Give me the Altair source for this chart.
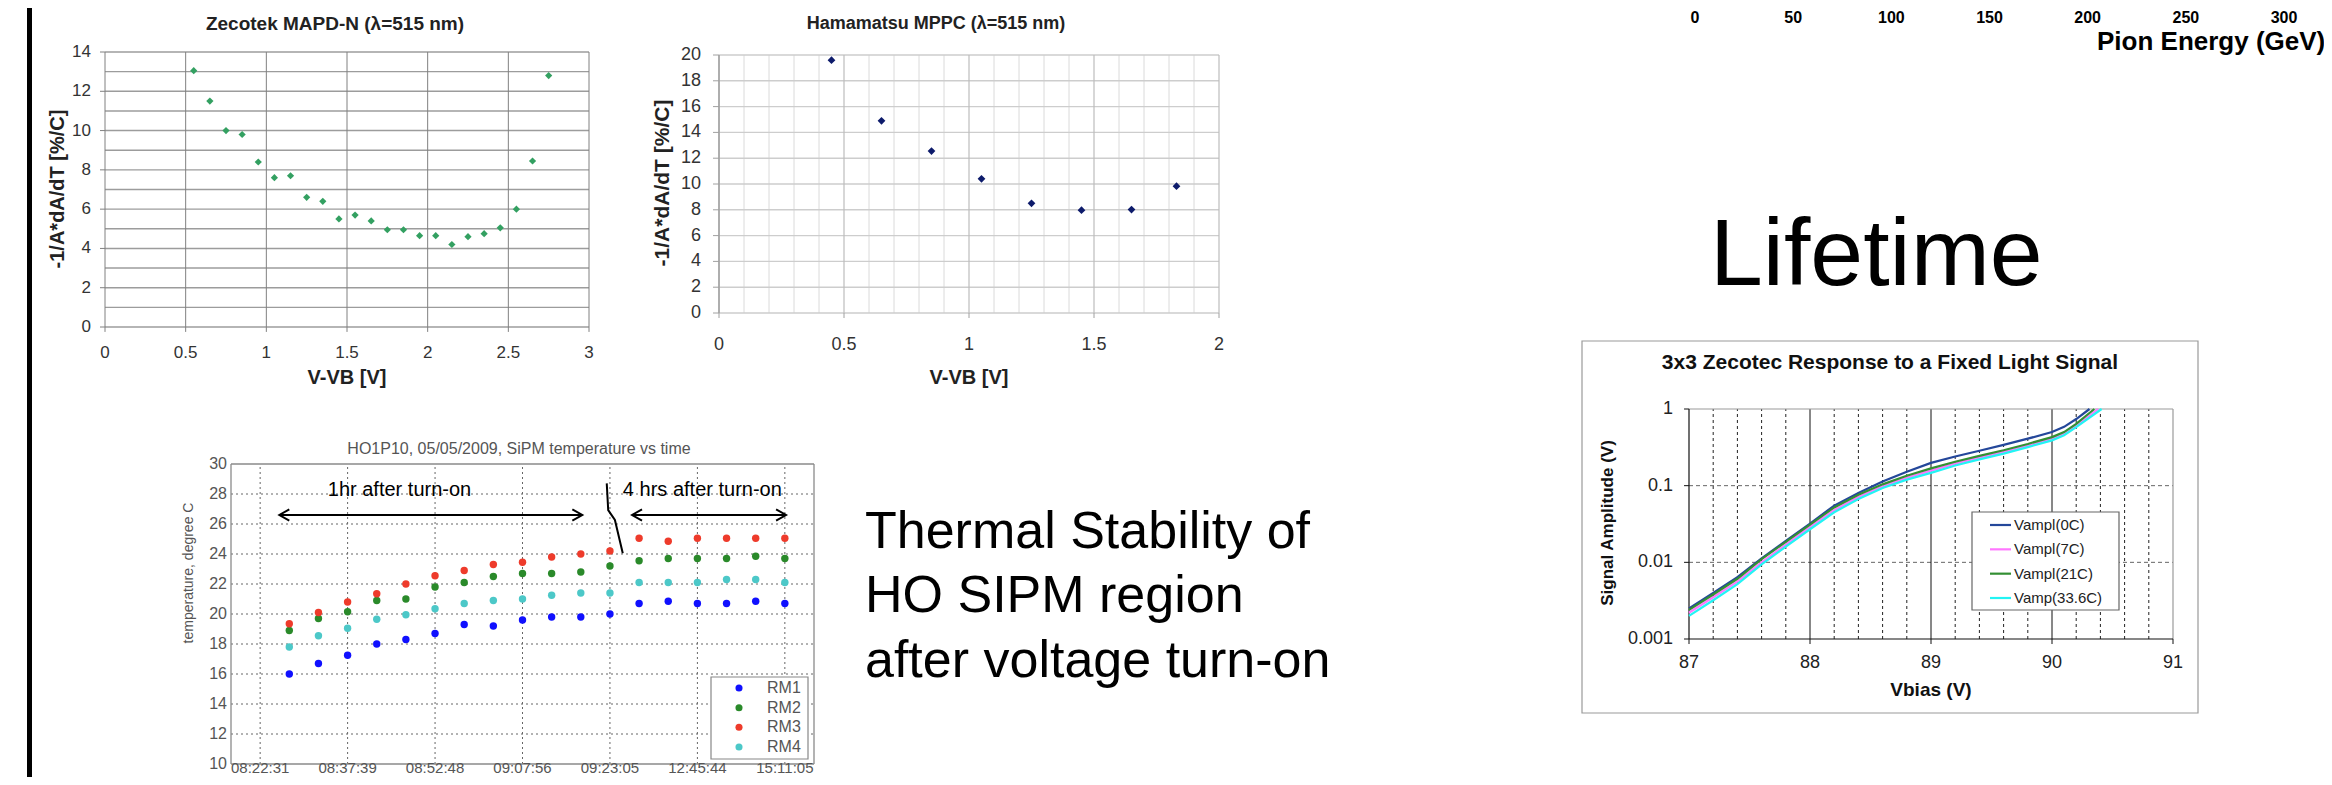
import altair as alt
import pandas as pd

FONT = "Liberation Sans"
W, H = 2316, 769

# ------------------------------------------------------------------ data
# Zecotek MAPD-N (lambda = 515 nm)
zec_vvb = [0.55, 0.65, 0.75, 0.85, 0.95, 1.05, 1.15, 1.25, 1.35, 1.45, 1.55, 1.65,
           1.75, 1.85, 1.95, 2.05, 2.15, 2.25, 2.35, 2.45, 2.55, 2.65, 2.75]
zec_coef = [13.05, 11.5, 10.0, 9.8, 8.4, 7.6, 7.7, 6.6, 6.4, 5.5, 5.7, 5.4,
            4.95, 4.95, 4.65, 4.65, 4.2, 4.6, 4.75, 5.05, 6.0, 8.45, 12.8]
zec_xticks = [0, 0.5, 1, 1.5, 2, 2.5, 3]
zec_xlabels = ["0", "0.5", "1", "1.5", "2", "2.5", "3"]
zec_yticks = [0, 2, 4, 6, 8, 10, 12, 14]
zec_ylabels = ["0", "2", "4", "6", "8", "10", "12", "14"]
zec_ygrid = [0, 1, 2, 3, 4, 5, 6, 7, 8, 9, 10, 11, 12, 13, 14]

# Hamamatsu MPPC (lambda = 515 nm)
ham_vvb = [0.45, 0.65, 0.85, 1.05, 1.25, 1.45, 1.65, 1.83]
ham_coef = [19.6, 14.9, 12.55, 10.4, 8.5, 7.97, 8.02, 9.83]
ham_xticks = [0, 0.5, 1, 1.5, 2]
ham_xlabels = ["0", "0.5", "1", "1.5", "2"]
ham_xminor = [0.1, 0.2, 0.3, 0.4, 0.6, 0.7, 0.8, 0.9, 1.1, 1.2, 1.3, 1.4,
              1.6, 1.7, 1.8, 1.9]
ham_yticks = [0, 2, 4, 6, 8, 10, 12, 14, 16, 18, 20]
ham_ylabels = ["0", "2", "4", "6", "8", "10", "12", "14", "16", "18", "20"]

# HO1P10 SiPM temperature vs time
time_idx = [1, 2, 3, 4, 5, 6, 7, 8, 9, 10, 11, 12, 13, 14, 15, 16, 17, 18]
rm_names = ["RM1", "RM2", "RM3", "RM4"]
rm1 = [16.0, 16.7, 17.25, 18.0, 18.3, 18.7, 19.3, 19.2, 19.6, 19.8, 19.8, 20.0,
       20.7, 20.85, 20.7, 20.7, 20.85, 20.7]
rm2 = [18.9, 19.7, 20.15, 20.9, 21.0, 21.8, 22.1, 22.5, 22.7, 22.7, 22.8, 23.2,
       23.55, 23.7, 23.7, 23.7, 23.85, 23.7]
rm3 = [19.35, 20.1, 20.8, 21.35, 22.0, 22.55, 22.9, 23.3, 23.45, 23.8, 24.0, 24.2,
       25.05, 24.85, 25.05, 25.05, 25.05, 25.05]
rm4 = [17.8, 18.55, 19.05, 19.65, 19.95, 20.35, 20.7, 20.9, 21.0, 21.25, 21.4, 21.4,
       22.1, 22.1, 22.1, 22.3, 22.3, 22.1]
rm_colors = ["#1010ff", "#2a8a2a", "#ee3b2b", "#4cc8c8"]
time_ticks = [0, 3, 6, 9, 12, 15, 18]
time_labels = ["08:22:31", "08:37:39", "08:52:48", "09:07:56", "09:23:05",
               "12:45:44", "15:11:05"]
temp_yticks = [10, 12, 14, 16, 18, 20, 22, 24, 26, 28, 30]
temp_ylabels = ["10", "12", "14", "16", "18", "20", "22", "24", "26", "28", "30"]
temp_ygrid = [12, 14, 16, 18, 20, 22, 24, 26, 28]

# annotations on the temperature plot (data coordinates)
annot_text = ["1hr after turn-on", "4 hrs after turn-on"]
annot_x = [4.78, 15.17]
annot_y = [28.27, 28.27]
arrow_paths = [
    [(0.66, 26.6), (11.05, 26.6)],
    [(1.0, 26.97), (0.66, 26.6), (1.0, 26.23)],
    [(10.71, 26.97), (11.05, 26.6), (10.71, 26.23)],
    [(12.76, 26.6), (18.04, 26.6)],
    [(13.1, 26.97), (12.76, 26.6), (13.1, 26.23)],
    [(17.7, 26.97), (18.04, 26.6), (17.7, 26.23)],
    [(11.89, 28.71), (11.94, 26.93), (12.17, 26.27), (12.44, 24.05)],
]

# 3x3 Zecotec response to a fixed light signal
vbias = [87.0, 87.2, 87.4, 87.6, 87.8, 88.0, 88.2, 88.4, 88.6, 88.8, 89.0, 89.2,
         89.4, 89.6, 89.8, 90.0, 90.1, 90.2]
amp_names = ["Vampl(0C)", "Vampl(7C)", "Vampl(21C)", "Vamp(33.6C)"]
amp_0c = [0.0025, 0.0040, 0.0064, 0.0113, 0.019, 0.032, 0.055, 0.080, 0.113, 0.152,
          0.198, 0.24, 0.285, 0.34, 0.41, 0.50, 0.585, 0.74]
amp_7c = [0.0022, 0.0035, 0.0056, 0.0100, 0.0170, 0.029, 0.048, 0.071, 0.098, 0.127,
          0.157, 0.194, 0.232, 0.275, 0.33, 0.405, 0.47, 0.60]
amp_21c = [0.0024, 0.0038, 0.0061, 0.0110, 0.0185, 0.031, 0.052, 0.076, 0.104, 0.135,
           0.168, 0.205, 0.245, 0.29, 0.35, 0.43, 0.50, 0.64]
amp_336c = [0.0020, 0.0032, 0.0052, 0.0094, 0.0160, 0.027, 0.045, 0.067, 0.093, 0.12,
            0.147, 0.183, 0.22, 0.262, 0.318, 0.39, 0.455, 0.58]
amp_end_x = [90.31, 90.38, 90.35, 90.41]
amp_end_y = [1.0, 1.0, 1.0, 1.0]
amp_colors = ["#24479a", "#ff77ff", "#338f33", "#22f4f4"]
vb_ticks = [87, 88, 89, 90, 91]
vb_labels = ["87", "88", "89", "90", "91"]
vb_minor = [87.2, 87.4, 87.6, 87.8, 88.2, 88.4, 88.6, 88.8, 89.2, 89.4, 89.6, 89.8,
            90.2, 90.4, 90.6, 90.8]
amp_ticks = [0.001, 0.01, 0.1, 1]
amp_labels = ["0.001", "0.01", "0.1", "1"]

# cut-off pion energy axis (top right)
pion_ticks = [0, 50, 100, 150, 200, 250, 300]
pion_labels = ["0", "50", "100", "150", "200", "250", "300"]


# ------------------------------------------------------------------ helpers
def lin(dom, rng):
    return alt.Scale(type="linear", domain=dom, range=rng, nice=False, zero=False)


def logs(dom, rng):
    return alt.Scale(type="log", domain=dom, range=rng, nice=False)


def hlines(vals, lo, hi, xs, ys, color, width=1.0, dash=None):
    df = pd.DataFrame({"v": vals, "lo": [lo] * len(vals), "hi": [hi] * len(vals)})
    kw = dict(color=color, strokeWidth=width)
    if dash:
        kw["strokeDash"] = dash
    return alt.Chart(df).mark_rule(**kw).encode(
        y=alt.Y("v:Q", scale=ys, axis=None),
        x=alt.X("lo:Q", scale=xs, axis=None),
        x2="hi:Q")


def vlines(vals, lo, hi, xs, ys, color, width=1.0, dash=None):
    df = pd.DataFrame({"v": vals, "lo": [lo] * len(vals), "hi": [hi] * len(vals)})
    kw = dict(color=color, strokeWidth=width)
    if dash:
        kw["strokeDash"] = dash
    return alt.Chart(df).mark_rule(**kw).encode(
        x=alt.X("v:Q", scale=xs, axis=None),
        y=alt.Y("lo:Q", scale=ys, axis=None),
        y2="hi:Q")


def ylabels(vals, texts, ys, xpx, size, color, font=FONT):
    df = pd.DataFrame({"v": vals, "t": texts})
    return alt.Chart(df).mark_text(align="right", baseline="middle", font=font,
                                   fontSize=size, color=color).encode(
        y=alt.Y("v:Q", scale=ys, axis=None), x=alt.value(xpx), text="t:N")


def xlabels(vals, texts, xs, ypx, size, color, baseline="middle", font=FONT,
            weight="normal"):
    df = pd.DataFrame({"v": vals, "t": texts})
    return alt.Chart(df).mark_text(align="center", baseline=baseline, font=font,
                                   fontSize=size, color=color,
                                   fontWeight=weight).encode(
        x=alt.X("v:Q", scale=xs, axis=None), y=alt.value(ypx), text="t:N")


def label(text, x, y, size, color="black", weight="normal", angle=0,
          align="center", baseline="middle", font=FONT):
    df = pd.DataFrame({"t": [text]})
    kw = dict(align=align, baseline=baseline, font=font, fontSize=size,
              color=color, fontWeight=weight)
    if angle:
        kw["angle"] = angle
    return alt.Chart(df).mark_text(**kw).encode(
        x=alt.value(x), y=alt.value(y), text="t:N")


def box(x1, x2, y1, y2, stroke, width=1.0):
    return alt.Chart(pd.DataFrame({"a": [0]})).mark_rect(
        fill="white", stroke=stroke, strokeWidth=width).encode(
        x=alt.value(x1), x2=alt.value(x2), y=alt.value(y1), y2=alt.value(y2))


layers = []

# slide border bar
layers.append(alt.Chart(pd.DataFrame({"a": [0]})).mark_rule(
    color="black", strokeWidth=5).encode(
    x=alt.value(21.5), y=alt.value(0), y2=alt.value(H)))

# ------------------------------------------------------------------ Zecotek chart
ax, ay = lin([0, 3], [97, 581]), lin([0, 14], [319, 44])
layers += [
    hlines(zec_ygrid, 0, 3, ax, ay, "#9c9c9c", 1.4),
    vlines(zec_xticks, 0, 14, ax, ay, "#808080", 1.0),
    hlines(zec_yticks, -0.031, 0, ax, ay, "#808080", 1.0),
    vlines(zec_xticks, -0.25, 0, ax, ay, "#808080", 1.0),
    ylabels(zec_yticks, zec_ylabels, ay, 83, 17, "#333333"),
    xlabels(zec_xticks, zec_xlabels, ax, 345, 17, "#333333"),
    alt.Chart(pd.DataFrame({"v": zec_vvb, "c": zec_coef})).mark_point(
        shape="diamond", filled=True, size=52, color="#33a061", opacity=1).encode(
        x=alt.X("v:Q", scale=ax, axis=None), y=alt.Y("c:Q", scale=ay, axis=None)),
    label("Zecotek MAPD-N (\u03bb=515 nm)", 327, 16, 19, "#222222", "bold"),
    label("V-VB [V]", 339, 370, 20, "#222222", "bold"),
    label("-1/A*dA/dT [%/C]", 50, 181, 20, "#222222", "bold", angle=270),
]

# ------------------------------------------------------------------ Hamamatsu chart
bx, by = lin([0, 2], [711, 1211]), lin([0, 20], [305, 47])
layers += [
    vlines(ham_xminor, 0, 20, bx, by, "#dadada", 1.0),
    hlines(ham_yticks, 0, 2, bx, by, "#cdcdcd", 1.4),
    vlines(ham_xticks, 0, 20, bx, by, "#bdbdbd", 1.2),
    vlines([0], 0, 20, bx, by, "#a0a0a0", 1.5),
    hlines(ham_yticks, -0.024, 0, bx, by, "#a0a0a0", 1.0),
    vlines(ham_xticks, -0.39, 0, bx, by, "#a0a0a0", 1.0),
    ylabels(ham_yticks, ham_ylabels, by, 693, 18, "#333333"),
    xlabels(ham_xticks, ham_xlabels, bx, 337, 18, "#333333"),
    alt.Chart(pd.DataFrame({"v": ham_vvb, "c": ham_coef})).mark_point(
        shape="diamond", filled=True, size=60, color="#0d1b6b", opacity=1).encode(
        x=alt.X("v:Q", scale=bx, axis=None), y=alt.Y("c:Q", scale=by, axis=None)),
    label("Hamamatsu MPPC (\u03bb=515 nm)", 928, 16, 18, "#222222", "bold"),
    label("V-VB [V]", 961, 370, 20, "#222222", "bold"),
    label("-1/A*dA/dT [%/C]", 655, 175, 21, "#222222", "bold", angle=270),
]

# ------------------------------------------------------------------ temperature chart
cx, cy = lin([-1, 19], [223, 806]), lin([10, 30], [756, 456])
rm_color_scale = alt.Scale(domain=rm_names, range=rm_colors)
temp_rows = []
for name, vals in zip(rm_names, [rm1, rm2, rm3, rm4]):
    for t, v in zip(time_idx, vals):
        temp_rows.append({"t": t, "temp": v, "module": name})
arrow_rows = []
for s, path in enumerate(arrow_paths):
    for k, (px, py) in enumerate(path):
        arrow_rows.append({"seg": s, "k": k, "x": px, "y": py})
rm_legend = pd.DataFrame({"module": rm_names, "row": list(range(len(rm_names)))})
rm_row_scale = lin([0, 3], [680, 739])

layers += [
    hlines(temp_ygrid, -1, 19, cx, cy, "#666666", 1.0, [2, 3]),
    vlines(time_ticks, 10, 30, cx, cy, "#666666", 1.0, [2, 3]),
    hlines([10, 30], -1, 19, cx, cy, "#8a8a8a", 1.3),
    vlines([-1, 19], 10, 30, cx, cy, "#8a8a8a", 1.3),
    ylabels(temp_yticks, temp_ylabels, cy, 219, 16, "#555555"),
    xlabels(time_ticks, time_labels, cx, 768, 15, "#555555", baseline="bottom"),
    label("HO1P10, 05/05/2009, SiPM temperature vs time", 511, 441, 16, "#555555"),
    label("temperature, degree C", 181, 565, 14, "#555555", angle=270),
    alt.Chart(pd.DataFrame(temp_rows)).mark_circle(size=55, opacity=1).encode(
        x=alt.X("t:Q", scale=cx, axis=None),
        y=alt.Y("temp:Q", scale=cy, axis=None),
        color=alt.Color("module:N", scale=rm_color_scale, legend=None)),
    alt.Chart(pd.DataFrame({"t": annot_text, "x": annot_x, "y": annot_y})).mark_text(
        font=FONT, fontSize=20, color="black", align="center", baseline="middle").encode(
        x=alt.X("x:Q", scale=cx, axis=None), y=alt.Y("y:Q", scale=cy, axis=None),
        text="t:N"),
    alt.Chart(pd.DataFrame(arrow_rows)).mark_line(color="black", strokeWidth=2).encode(
        x=alt.X("x:Q", scale=cx, axis=None), y=alt.Y("y:Q", scale=cy, axis=None),
        detail="seg:N", order=alt.Order("k:Q")),
    # legend
    box(703, 800, 669, 751, "#888888", 1.2),
    alt.Chart(rm_legend).mark_circle(size=50, opacity=1).encode(
        x=alt.value(731), y=alt.Y("row:Q", scale=rm_row_scale, axis=None),
        color=alt.Color("module:N", scale=rm_color_scale, legend=None)),
    alt.Chart(rm_legend).mark_text(align="left", baseline="middle", font=FONT,
                                   fontSize=16, color="#555555").encode(
        x=alt.value(759), y=alt.Y("row:Q", scale=rm_row_scale, axis=None),
        text="module:N"),
]

# ------------------------------------------------------------------ slide texts
layers += [
    label("Thermal Stability of", 857, 540, 52, "black", align="left",
          baseline="alphabetic"),
    label("HO SIPM region", 857, 604, 52, "black", align="left",
          baseline="alphabetic"),
    label("after voltage turn-on", 857, 669, 52, "black", align="left",
          baseline="alphabetic"),
    label("Lifetime", 1702, 277, 95, "black", align="left", baseline="alphabetic"),
]

# ------------------------------------------------------------------ pion energy axis (cut)
px_scale = lin([0, 300], [1687, 2276])
layers += [
    xlabels(pion_ticks, pion_labels, px_scale, 15, 16, "black", baseline="alphabetic",
            weight="bold"),
    label("Pion Energy (GeV)", 2089, 42, 26, "black", "bold", align="left",
          baseline="alphabetic"),
]

# ------------------------------------------------------------------ Zecotec response chart
dx, dy = lin([87, 91], [1681, 2165]), logs([0.001, 1], [631, 401])
amp_color_scale = alt.Scale(domain=amp_names, range=amp_colors)
amp_rows = []
for name, vals, ex, ey in zip(amp_names, [amp_0c, amp_7c, amp_21c, amp_336c],
                              amp_end_x, amp_end_y):
    for x, v in zip(vbias + [ex], vals + [ey]):
        amp_rows.append({"vb": x, "amp": v, "series": name})
amp_legend = pd.DataFrame({"series": amp_names, "row": list(range(len(amp_names)))})
amp_row_scale = lin([0, 3], [517, 590])

layers += [
    box(1574, 2190, 333, 705, "#9a9a9a", 1.2),
    vlines(vb_minor, 0.001, 1, dx, dy, "#222222", 1.0, [3, 3]),
    hlines([0.01, 0.1], 87, 91, dx, dy, "#666666", 1.0, [4, 3]),
    vlines([88, 89, 90], 0.001, 1, dx, dy, "#111111", 1.0),
    hlines([1], 87, 91, dx, dy, "#9a9a9a", 1.2),
    vlines([91], 0.001, 1, dx, dy, "#9a9a9a", 1.2),
    vlines([87], 0.001, 1, dx, dy, "#111111", 1.2),
    hlines([0.001], 87, 91, dx, dy, "#111111", 1.2),
    hlines(amp_ticks, 86.959, 87, dx, dy, "#111111", 1.0),
    vlines(vb_ticks, 0.00086, 0.001, dx, dy, "#111111", 1.0),
    ylabels(amp_ticks, amp_labels, dy, 1665, 18, "#222222"),
    xlabels(vb_ticks, vb_labels, dx, 655, 18, "#222222"),
    label("3x3 Zecotec Response to a Fixed Light Signal", 1882, 355, 21, "#111111",
          "bold"),
    label("Vbias (V)", 1923, 682, 19, "#111111", "bold"),
    label("Signal Amplitude (V)", 1600, 515, 17, "#111111", "bold", angle=270),
    alt.Chart(pd.DataFrame(amp_rows)).mark_line(strokeWidth=2.2).encode(
        x=alt.X("vb:Q", scale=dx, axis=None),
        y=alt.Y("amp:Q", scale=dy, axis=None),
        color=alt.Color("series:N", scale=amp_color_scale, legend=None)),
    # legend
    box(1964, 2111, 504, 602, "#666666", 1.2),
    alt.Chart(amp_legend).mark_rule(strokeWidth=2.2).encode(
        x=alt.value(1982), x2=alt.value(2003),
        y=alt.Y("row:Q", scale=amp_row_scale, axis=None),
        color=alt.Color("series:N", scale=amp_color_scale, legend=None)),
    alt.Chart(amp_legend).mark_text(align="left", baseline="middle", font=FONT,
                                    fontSize=15, color="#222222").encode(
        x=alt.value(2006), y=alt.Y("row:Q", scale=amp_row_scale, axis=None),
        text="series:N"),
]

chart = alt.layer(*layers).resolve_scale(
    x="independent", y="independent", color="independent"
).properties(
    width=W, height=H, autosize=alt.AutoSizeParams(type="none"), padding=0,
    background="white"
).configure_view(strokeWidth=0)

chart.save("out.html", embed_options={"renderer": "svg", "actions": False})
